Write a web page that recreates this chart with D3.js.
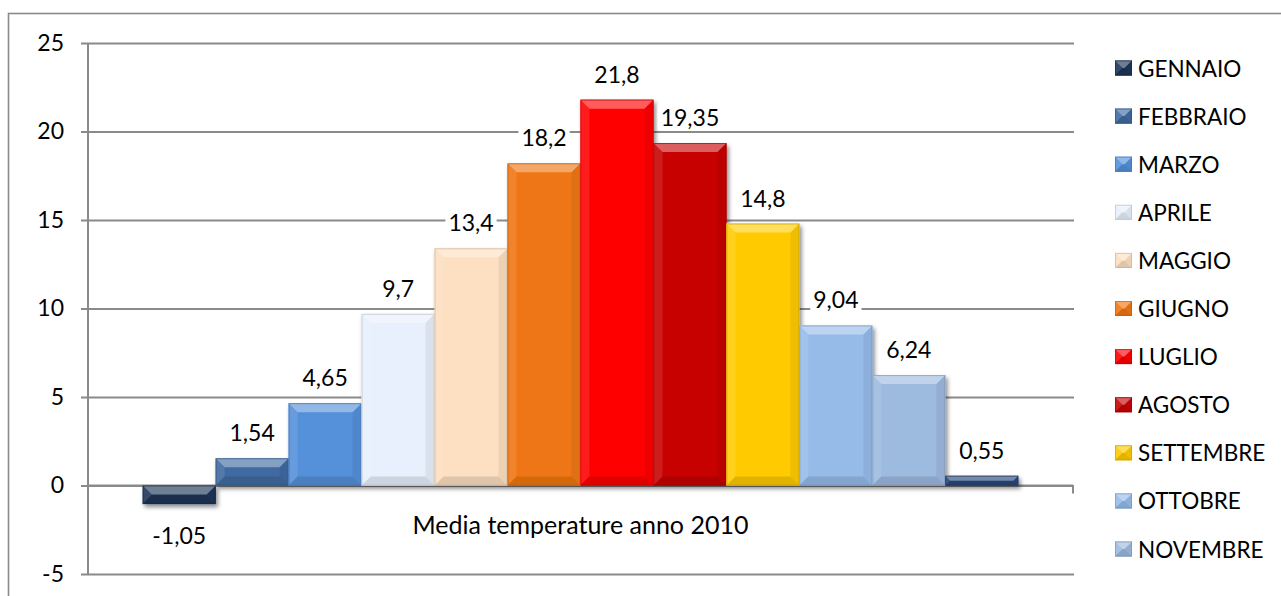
<!DOCTYPE html>
<html>
<head>
<meta charset="utf-8">
<script src="https://cdn.jsdelivr.net/npm/d3@7"></script>
<style>
  html, body { margin: 0; padding: 0; background: #fff; overflow: hidden; }
  svg { display: block; }
  text { font-family: Lato, "Open Sans", "Liberation Sans", sans-serif; fill: #000; }
</style>
</head>
<body>
<svg id="chart" width="1281" height="596"></svg>
<script>
// Monthly average temperatures, 2010
const months = ["GENNAIO", "FEBBRAIO", "MARZO", "APRILE", "MAGGIO", "GIUGNO",
                "LUGLIO", "AGOSTO", "SETTEMBRE", "OTTOBRE", "NOVEMBRE", "DICEMBRE"];
const temps = [-1.05, 1.54, 4.65, 9.7, 13.4, 18.2, 21.8, 19.35, 14.8, 9.04, 6.24, 0.55];
const colors = ["#1d3557", "#3f6aa1", "#5590da", "#e7f0fc", "#fddfc1", "#ef7613",
                "#ff0000", "#c70303", "#ffcb00", "#96bbe9", "#9dbadf", "#27477a"];
const yTicks = [-5, 0, 5, 10, 15, 20, 25];
const category = "Media temperature anno 2010";

const svg = d3.select("#chart");
const FONT = 23;
const TITLE_FONT = 25;
const LEGEND_FONT = 22.5;

const plot = { left: 88, right: 1073, top: 43, bottom: 574 };

const y = d3.scaleLinear().domain([-5, 25]).range([plot.bottom, plot.top]);

// one category holding twelve series; gap width 150% split around the group
const catWidth = plot.right - plot.left;
const barW = catWidth / (months.length + 1.5);
const x = d3.scaleBand()
  .domain(months)
  .range([plot.left + barW * 0.75, plot.right - barW * 0.75])
  .paddingInner(0).paddingOuter(0);

const color = d3.scaleOrdinal().domain(months).range(colors);

// drop shadow for bars
const defs = svg.append("defs");
const f = defs.append("filter").attr("id", "shadow")
  .attr("x", "-20%").attr("y", "-20%").attr("width", "150%").attr("height", "160%");
f.append("feDropShadow").attr("dx", 2).attr("dy", 3).attr("stdDeviation", 2.2)
  .attr("flood-color", "#000").attr("flood-opacity", 0.45);

// chart frame
svg.append("rect")
  .attr("x", 8.5).attr("y", 13.5).attr("width", 1300).attr("height", 620)
  .attr("fill", "none").attr("stroke", "#8a8a8a").attr("stroke-width", 1.6);

// gridlines + value axis
const yAxis = d3.axisLeft(y).tickValues(yTicks).tickSize(-(plot.right - plot.left + 1)).tickPadding(24)
  .tickFormat(d => String(d));
const gy = svg.append("g").attr("transform", `translate(${plot.left},0)`).call(yAxis);
gy.select(".domain").remove();
gy.selectAll(".tick line").attr("stroke", "#8a8a8a").attr("stroke-width", 2).attr("x1", -7);
gy.selectAll(".tick text").attr("font-size", FONT).attr("font-family", null).attr("fill", "#000");

// vertical axis line
svg.append("line")
  .attr("x1", plot.left).attr("x2", plot.left)
  .attr("y1", y(25)).attr("y2", y(-5))
  .attr("stroke", "#8a8a8a").attr("stroke-width", 2);

// category axis at zero with end tick
svg.append("line")
  .attr("x1", plot.left).attr("x2", plot.right)
  .attr("y1", y(0)).attr("y2", y(0))
  .attr("stroke", "#8a8a8a").attr("stroke-width", 2);
svg.append("line")
  .attr("x1", plot.right).attr("x2", plot.right)
  .attr("y1", y(0)).attr("y2", y(0) + 8)
  .attr("stroke", "#8a8a8a").attr("stroke-width", 2);

// bevelled column
function bevelBar(g, x0, y0, w, h, c) {
  const b = Math.min(9, h / 2, w / 2);
  const base = d3.color(c);
  const light = d3.interpolateRgb(c, "#ffffff")(0.36);
  const lightSide = d3.interpolateRgb(c, "#ffffff")(0.1);
  const dark = base.darker(0.35).formatHex();
  const darkSide = base.darker(0.18).formatHex();
  const edge = base.darker(0.7).formatHex();
  const x1 = x0 + w, y1 = y0 + h;
  g.append("rect").attr("x", x0).attr("y", y0).attr("width", w).attr("height", h)
    .attr("fill", c);
  const poly = (pts, fill) => g.append("polygon")
    .attr("points", pts.map(p => p.join(",")).join(" ")).attr("fill", fill);
  poly([[x0, y0], [x0 + b, y0 + b], [x0 + b, y1 - b], [x0, y1]], lightSide);
  poly([[x1, y0], [x1 - b, y0 + b], [x1 - b, y1 - b], [x1, y1]], darkSide);
  poly([[x0, y1], [x1, y1], [x1 - b, y1 - b], [x0 + b, y1 - b]], dark);
  poly([[x0, y0], [x1, y0], [x1 - b, y0 + b], [x0 + b, y0 + b]], light);
  g.append("rect").attr("x", x0 + 0.5).attr("y", y0 + 0.5)
    .attr("width", Math.max(0, w - 1)).attr("height", Math.max(0, h - 1))
    .attr("fill", "none").attr("stroke", edge).attr("stroke-width", 1).attr("stroke-opacity", 0.6);
}

// bars
const bars = svg.append("g").attr("filter", "url(#shadow)");
months.forEach((m, i) => {
  const v = temps[i];
  const top = y(Math.max(0, v)), bot = y(Math.min(0, v));
  bevelBar(bars, x(m), top, x.bandwidth(), bot - top, color(m));
});

// value labels with white backing
const fmt = v => String(v).replace(".", ",");
const labels = svg.append("g");
months.forEach((m, i) => {
  const v = temps[i];
  const cx = x(m) + x.bandwidth() / 2;
  const cy = v >= 0 ? y(v) - 26 : y(v) + 31;
  const lg = labels.append("g");
  const t = lg.append("text").attr("x", cx).attr("y", cy)
    .attr("text-anchor", "middle").attr("dominant-baseline", "central")
    .attr("font-size", FONT).text(fmt(v));
  const bb = t.node().getBBox();
  lg.insert("rect", "text").attr("x", bb.x - 3).attr("y", bb.y + 2)
    .attr("width", bb.width + 6).attr("height", bb.height - 3).attr("fill", "#fff");
});

// category label
svg.append("text")
  .attr("x", (plot.left + plot.right) / 2).attr("y", 524)
  .attr("text-anchor", "middle").attr("dominant-baseline", "central")
  .attr("font-size", TITLE_FONT).text(category);

// legend: entries are listed only while they fit inside the plot height
const ly = d3.scaleLinear().domain([0, 10]).range([68, 549]);
const legend = svg.append("g");
months.filter((m, i) => ly(i) <= plot.bottom).forEach((m, i) => {
  const cy = ly(i);
  const g = legend.append("g");
  bevelBar(g, 1115, cy - 7.5, 17, 15, color(m));
  g.append("text").attr("x", 1138).attr("y", cy)
    .attr("dominant-baseline", "central").attr("font-size", LEGEND_FONT).text(m);
});
</script>
</body>
</html>
